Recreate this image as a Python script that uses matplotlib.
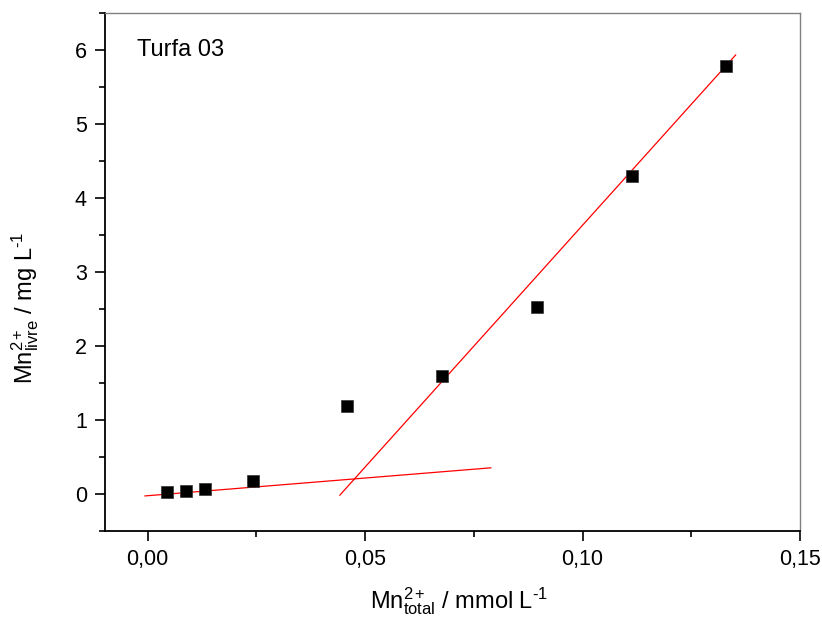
import numpy as np
import matplotlib.pyplot as plt
from matplotlib.ticker import MultipleLocator, FuncFormatter

plt.rcParams['font.family'] = ['Liberation Sans', 'DejaVu Sans']
plt.rcParams['mathtext.fontset'] = 'custom'
plt.rcParams['mathtext.rm'] = 'Liberation Sans'
plt.rcParams['mathtext.it'] = 'Liberation Sans'
plt.rcParams['mathtext.bf'] = 'Liberation Sans:bold'

# measured points (Mn total vs Mn livre)
mn_total = [0.0044, 0.0088, 0.0132, 0.0242, 0.0458, 0.0677, 0.0896, 0.1114, 0.1329]
mn_livre = [0.03, 0.04, 0.06, 0.17, 1.19, 1.59, 2.52, 4.29, 5.78]

# two linear fits: x range, intercept, slope
fit1_x = [-0.0006, 0.0789]
fit1_a, fit1_b = -0.027, 4.78
fit2_x = [0.0442, 0.1352]
fit2_a, fit2_b = -2.91, 65.4

fig = plt.figure(figsize=(8.22, 6.19), dpi=100)
ax = fig.add_axes([105/822, (619-530.7)/619, 695/822, 517.7/619])

x1 = np.array(fit1_x)
x2 = np.array(fit2_x)
ax.plot(x1, fit1_a + fit1_b*x1, color='red', lw=0.9)
ax.plot(x2, fit2_a + fit2_b*x2, color='red', lw=0.9)
ax.plot(mn_total, mn_livre, 's', color='black', ms=8.5, mec='#333333', mew=0.5)

ax.set_xlim(-0.0098, 0.15)
ax.set_ylim(-0.5, 6.5)

ax.xaxis.set_major_locator(MultipleLocator(0.05))
ax.xaxis.set_minor_locator(MultipleLocator(0.025))
ax.yaxis.set_major_locator(MultipleLocator(1))
ax.yaxis.set_minor_locator(MultipleLocator(0.5))
ax.xaxis.set_major_formatter(FuncFormatter(lambda v, p: ('%.2f' % v).replace('.', ',')))
ax.yaxis.set_major_formatter(FuncFormatter(lambda v, p: '%d' % round(v)))

ax.tick_params(which='both', direction='out', top=False, right=False, width=1.2, labelsize=15.5)
ax.tick_params(which='major', length=7, pad=6)
ax.tick_params(which='minor', length=4)

for s in ['left', 'bottom']:
    ax.spines[s].set_linewidth(1.3)
    ax.spines[s].set_color('black')
for s in ['top', 'right']:
    ax.spines[s].set_linewidth(1.0)
    ax.spines[s].set_color('#808080')

ax.set_xlabel(r'Mn$^{2+}_{\mathrm{total}}$ / mmol L$^{\text{-}1}$', fontsize=17)
ax.set_ylabel(r'Mn$^{2+}_{\mathrm{livre}}$ / mg L$^{\text{-}1}$', fontsize=17)
ax.xaxis.set_label_coords(0.51, -0.105)
ax.yaxis.set_label_coords(-0.092, 0.43)

ax.text(0.046, 0.917, 'Turfa 03', fontsize=17, va='baseline', transform=ax.transAxes)

fig.savefig('out.png', dpi=100)
